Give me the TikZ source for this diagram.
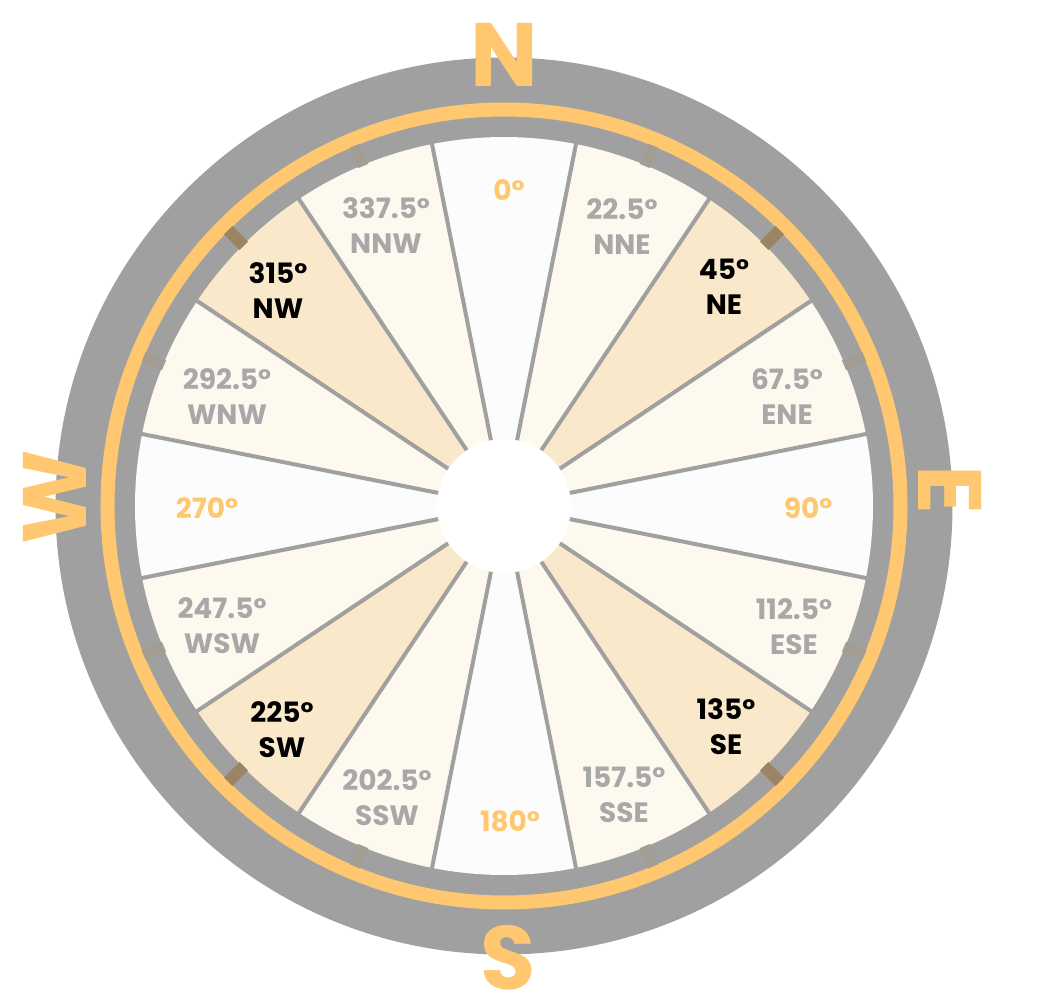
\documentclass[tikz,border=0pt]{standalone}
\usepackage{fontspec}
\setmainfont{Poppins}
\definecolor{ringgray}{HTML}{A0A0A0}
\definecolor{ringorange}{HTML}{FFC870}
\definecolor{secA}{HTML}{FCFCFC}
\definecolor{secB}{HTML}{FEF9EF}
\definecolor{secC}{HTML}{FAE8CB}
\definecolor{txtgray}{HTML}{A8A8A8}
\definecolor{tickbrown}{HTML}{9C8462}
\definecolor{tickfaint}{HTML}{A39D94}
\begin{document}
\begin{tikzpicture}[x=1pt,y=1pt,
  lbl/.style={font=\bfseries\fontsize{28}{35}\selectfont, align=center, inner sep=0pt},
  big/.style={font=\bfseries\fontsize{90}{90}\selectfont, text=ringorange, inner sep=0pt},
  divider/.style={ringgray, line width=4}]
\useasboundingbox (-504,-499) rectangle (540,506);
\coordinate (c) at (0,0);
% outer rings
\fill[ringgray] (c) circle (448.5);
\draw[ringorange, line width=14] (c) circle (396.5);
% sectors
\foreach \t in {0,90,180,270}
  \fill[secA] (c) -- ({101.25-\t}:369) arc[start angle={101.25-\t}, end angle={78.75-\t}, radius=369] -- cycle;
\foreach \t in {45,135,225,315}
  \fill[secC] (c) -- ({101.25-\t}:369) arc[start angle={101.25-\t}, end angle={78.75-\t}, radius=369] -- cycle;
\foreach \t in {22.5,67.5,112.5,157.5,202.5,247.5,292.5,337.5}
  \fill[secB] (c) -- ({101.25-\t}:369) arc[start angle={101.25-\t}, end angle={78.75-\t}, radius=369] -- cycle;
% dividers
\foreach \k in {0,...,15}
  \draw[divider] (c) -- ({101.25-22.5*\k}:372);
% ticks
\foreach \t in {45,135,225,315}
  \draw[tickbrown, line width=12] ({90-\t}:368) -- ({90-\t}:390);
\foreach \t in {22.5,67.5,112.5,157.5,202.5,247.5,292.5,337.5}
  \draw[tickfaint, line width=11] ({90-\t}:368) -- ({90-\t}:390);
% centre
\fill[white] (c) circle (67);
% labels
\node[lbl, text=ringorange] (l0) at (5,316) {0°};
\node[lbl, text=txtgray] (l1) at (118,279) {22.5°\\NNE};
\node[lbl, text=black] (l2) at (220,219) {45°\\NE};
\node[lbl, text=txtgray] (l3) at (283,109) {67.5°\\ENE};
\node[lbl, text=ringorange] (l4) at (304,-2) {90°};
\node[lbl, text=txtgray] (l5) at (290,-121) {112.5°\\ESE};
\node[lbl, text=black] (l6) at (222,-221) {135°\\SE};
\node[lbl, text=txtgray] (l7) at (120,-289) {157.5°\\SSE};
\node[lbl, text=ringorange] (l8) at (6,-315) {180°};
\node[lbl, text=txtgray] (l9) at (-117,-292) {202.5°\\SSW};
\node[lbl, text=black] (l10) at (-222,-224) {225°\\SW};
\node[lbl, text=txtgray] (l11) at (-282,-120) {247.5°\\WSW};
\node[lbl, text=ringorange] (l12) at (-297,-2) {270°};
\node[lbl, text=txtgray] (l13) at (-277,109) {292.5°\\WNW};
\node[lbl, text=black] (l14) at (-226,215) {315°\\NW};
\node[lbl, text=txtgray] (l15) at (-118,280) {337.5°\\NNW};
% cardinal letters
\node[big] (bN) at (0,451) {N};
\node[big, rotate=-90] (bE) at (446,16) {E};
\node[big] (bS) at (4,-452) {S};
\node[big, rotate=90] (bW) at (-449,9) {W};
\end{tikzpicture}
\end{document}
